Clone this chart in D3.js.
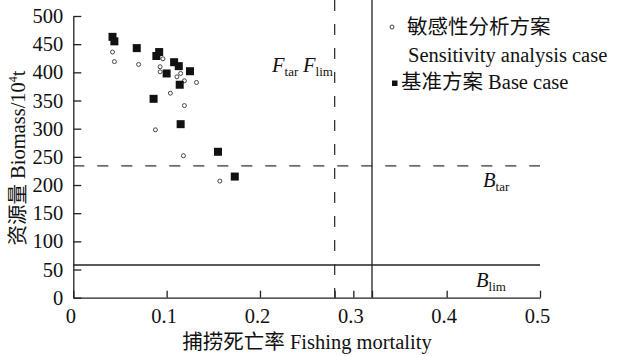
<!DOCTYPE html>
<html>
<head>
<meta charset="utf-8">
<script src="https://cdn.jsdelivr.net/npm/d3@7"></script>
<style>
  body { margin: 0; background: #fff; }
  svg text { font-family: "Liberation Serif", "Noto Sans CJK SC", serif; fill: #111; }
</style>
</head>
<body>
<svg id="chart" width="617" height="356"></svg>
<script>
// base case (filled squares)
var baseF = [0.042, 0.044, 0.068, 0.089, 0.092, 0.108, 0.113, 0.100, 0.125, 0.114, 0.086, 0.115, 0.155, 0.173];
var baseB = [463, 455, 443, 429, 436, 418, 411, 398, 402, 378, 353, 308, 259, 215];

// sensitivity analysis cases (small open circles)
var sensF = [0.042, 0.044, 0.070, 0.096, 0.093, 0.093, 0.115, 0.111, 0.119, 0.132, 0.104, 0.119, 0.088, 0.118, 0.157];
var sensB = [436, 419, 414, 424, 410, 401, 398, 392, 385, 382, 363, 341, 298, 252, 207];

// reference points
var Ftar = 0.28, Flim = 0.32;
var Btar = 234, Blim = 58;

var xTicks = [0, 0.1, 0.2, Ftar, 0.3, Flim, 0.4, 0.5];
var xLabels = ["0", "0.1", "0.2", "", "0.3", "", "0.4", "0.5"];
var yTicks = [0, 50, 100, 150, 200, 250, 300, 350, 400, 450, 500];

var svg = d3.select("#chart");
var x = d3.scaleLinear().domain([0, 0.5]).range([73.3, 540]);
var y = d3.scaleLinear().domain([0, 500]).range([297.7, 16]);

// axes
var xAxis = d3.axisBottom(x)
    .tickValues(xTicks)
    .tickSize(-7)
    .tickSizeOuter(0)
    .tickPadding(11)
    .tickFormat(function(d, i) { return xLabels[i]; });

var gx = svg.append("g")
    .attr("transform", "translate(0," + y(0) + ")")
    .call(xAxis);
gx.selectAll("text").attr("font-size", 20.5).attr("dx", -3);

var gy = svg.append("g")
    .attr("transform", "translate(" + x(0) + ",0)")
    .call(d3.axisLeft(y).tickValues(yTicks).tickSize(-8).tickSizeOuter(0).tickPadding(10));
gy.selectAll("text").attr("font-size", 20.5);

svg.selectAll(".domain, .tick line").attr("stroke", "#222").attr("stroke-width", 1.3);
svg.selectAll(".tick text").attr("fill", "#111");

// reference lines
var top = 465;
svg.append("line")
    .attr("x1", x(0)).attr("x2", x(0.5)).attr("y1", y(Btar)).attr("y2", y(Btar))
    .attr("stroke", "#333").attr("stroke-width", 1.3).attr("stroke-dasharray", "11,13");
svg.append("line")
    .attr("x1", x(0)).attr("x2", x(0.5)).attr("y1", y(Blim)).attr("y2", y(Blim))
    .attr("stroke", "#222").attr("stroke-width", 1.3);
svg.append("line")
    .attr("x1", x(Ftar)).attr("x2", x(Ftar)).attr("y1", y(top)).attr("y2", y(0))
    .attr("stroke", "#333").attr("stroke-width", 1.3).attr("stroke-dasharray", "11,13");
svg.append("line")
    .attr("x1", x(Flim)).attr("x2", x(Flim)).attr("y1", y(top)).attr("y2", y(0))
    .attr("stroke", "#222").attr("stroke-width", 1.3);

// points
svg.append("g").selectAll("circle")
    .data(sensF)
    .enter().append("circle")
    .attr("cx", function(d) { return x(d); })
    .attr("cy", function(d, i) { return y(sensB[i]); })
    .attr("r", 2)
    .attr("fill", "#fff")
    .attr("stroke", "#444")
    .attr("stroke-width", 1);

svg.append("g").selectAll("rect")
    .data(baseF)
    .enter().append("rect")
    .attr("x", function(d) { return x(d) - 4; })
    .attr("y", function(d, i) { return y(baseB[i]) - 4; })
    .attr("width", 8)
    .attr("height", 8)
    .attr("fill", "#111");

// labels with subscripts
function subLabel(px, py, main, sub) {
    var t = svg.append("text").attr("x", px).attr("y", py).attr("font-size", 20.5);
    t.append("tspan").attr("font-style", "italic").text(main);
    t.append("tspan").attr("font-size", 13).attr("dy", 4).text(sub);
    return t;
}
subLabel(272, 72, "F", "tar");
subLabel(303, 72, "F", "lim");
subLabel(483, 187, "B", "tar");
subLabel(476, 287, "B", "lim");

// legend
svg.append("circle").attr("cx", 392).attr("cy", 27).attr("r", 2)
    .attr("fill", "#fff").attr("stroke", "#444").attr("stroke-width", 1);
svg.append("text").attr("x", 407).attr("y", 34).attr("font-size", 20.5).text("敏感性分析方案");
svg.append("text").attr("x", 408).attr("y", 62).attr("font-size", 20.5).text("Sensitivity analysis case");
svg.append("rect").attr("x", 392).attr("y", 80.5).attr("width", 5.5).attr("height", 5.5).attr("fill", "#111");
svg.append("text").attr("x", 401).attr("y", 89).attr("font-size", 20.5).text("基准方案 Base case");

// axis titles
svg.append("text").attr("x", 307).attr("y", 349).attr("text-anchor", "middle").attr("font-size", 20.5)
    .text("捕捞死亡率 Fishing mortality");

svg.append("text")
    .attr("transform", "translate(25,158) rotate(-90)")
    .attr("text-anchor", "middle").attr("font-size", 20.5)
    .call(function(t) {
        t.append("tspan").text("资源量 Biomass/10");
        t.append("tspan").attr("font-size", 12).attr("dy", -8).text("4");
        t.append("tspan").attr("dy", 8).text("t");
    });
</script>
</body>
</html>
